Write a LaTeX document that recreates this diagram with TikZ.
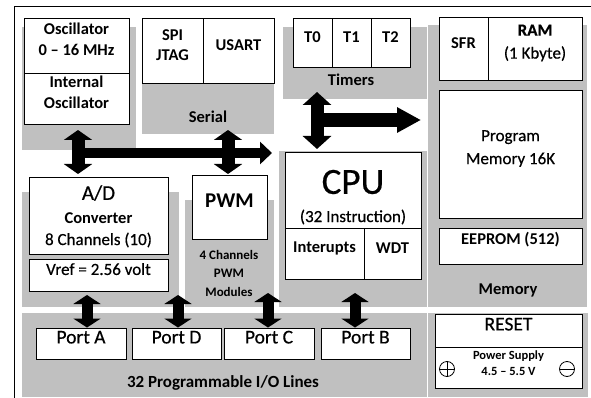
\documentclass[tikz,border=0pt]{standalone}
\usepackage{fontspec}
\setmainfont{Carlito}
\newfontfamily\medfam{Carlito}[FakeBold=0.5]
\usetikzlibrary{arrows.meta,fit}
\definecolor{grp}{RGB}{192,192,192}
\newcommand\labfont{\fontsize{16.5}{21}\selectfont\bfseries}
\newcommand\regfont{\fontsize{17}{22}\selectfont\medfam}
\newcommand\smlfont{\fontsize{12.5}{16}\selectfont\bfseries}
\begin{document}
\begin{tikzpicture}[x=1pt,y=-1pt,
  grpbox/.style={fill=grp,draw=none,inner sep=0pt},
  box/.style={draw=black,fill=white,line width=0.9pt,inner sep=0pt,align=center,font=\labfont},
  txt/.style={inner sep=0pt,align=center,font=\labfont},
  dblarr/.style={line width=13pt,{Triangle[width=28pt,length=10pt]}-{Triangle[width=28pt,length=10pt]}},
  iodbl/.style={line width=11pt,{Triangle[width=27pt,length=9pt]}-{Triangle[width=27pt,length=9pt]}},
  portbox/.style={box,font=\fontsize{19.5}{22}\selectfont\medfam},
]
\useasboundingbox (0,0) rectangle (591,398);
\fill[white] (0,0) rectangle (591,398);
% outer frame
\draw[line width=1pt] (14,398) -- (14,7) -- (591,7);

% gray groups
\node[grpbox,fit={(22,27)(136,150)}] (gosc) {};
\node[grpbox,fit={(142,83)(274,134)}] (gser) {};
\node[grpbox,fit={(283,27)(427,99)}] (gtim) {};
\node[grpbox,fit={(428,25)(587,307)}] (gmem) {};
\node[grpbox,fit={(279,151)(427,307)}] (gcpu) {};
\node[grpbox,fit={(185,200)(274,307)}] (gpwm) {};
\node[grpbox,fit={(22,192)(179,307)}] (gad) {};
\node[grpbox,fit={(22,313)(427,397)}] (gio) {};
\node[grpbox,fit={(428,313)(588,397)}] (grst) {};

% oscillator
\node[box,fit={(24,18)(129,73)}] (osc) {Oscillator\\0 -- 16 MHz};
\node[box,fit={(24,73)(129,124)}] (iosc) {Internal\\Oscillator};
% serial
\node[box,fit={(142,18)(203,83)},font=\fontsize{16.5}{20}\selectfont\bfseries] (spi) {SPI\\JTAG};
\node[box,fit={(203,18)(274,83)}] (usart) {USART};
\node[txt] (serial) at (208,117) {Serial};
% timers
\node[box,fit={(293,18)(332,67)}] (t0) {T0};
\node[box,fit={(332,18)(371,67)}] (t1) {T1};
\node[box,fit={(371,18)(410,67)}] (t2) {T2};
\node[txt] (timers) at (351,80) {Timers};
% memory
\node[box,fit={(439,17)(488,80)}] (sfr) {SFR};
\node[box,fit={(488,17)(582,80)},font=\fontsize{17}{23}\selectfont\medfam] (ram) {{\bfseries RAM}\\(1 Kbyte)};
\node[box,fit={(439,90)(582,218)},font=\fontsize{17}{23}\selectfont\medfam] (pm) {Program\\Memory 16K};
\node[box,fit={(439,228)(582,264)}] (eeprom) {EEPROM (512)};
\node[txt] (memory) at (508,290) {Memory};
% CPU
\node[box,fit={(285,152)(421,228)}] (cpu) {};
\node[txt,font=\fontsize{37}{40}\selectfont\medfam] (cpul) at (353,182) {CPU};
\node[txt,font=\regfont] (instr) at (353,217) {(32 Instruction)};
\node[box,fit={(285,228)(364,279)}] (int) {Interupts};
\node[box,fit={(364,228)(421,279)}] (wdt) {WDT};
% PWM
\node[box,fit={(192,175)(267,239)},font=\fontsize{21}{24}\selectfont\bfseries] (pwm) {PWM};
\node[txt,font=\fontsize{13}{18.5}\selectfont\bfseries] (pwml) at (229,273) {4 Channels\\PWM\\Modules};
% A/D
\node[box,fit={(29,177)(168,254)}] (ad) {};
\node[txt,font=\fontsize{21}{24}\selectfont\medfam] (adl) at (98.5,193) {A/D};
\node[txt] (conv) at (98.5,218) {Converter};
\node[txt,font=\regfont] (chan) at (98.5,240) {8 Channels (10)};
\node[box,fit={(29,259)(168,291)},font=\fontsize{17}{20}\selectfont\medfam] (vref) {Vref = 2.56 volt};
% IO ports
\node[portbox,fit={(36,328)(126,359)}] (pa) {Port A};
\node[portbox,fit={(132,328)(221,359)}] (pd) {Port D};
\node[portbox,fit={(224,328)(314,359)}] (pc) {Port C};
\node[portbox,fit={(321,328)(410,359)}] (pb) {Port B};
\node[txt,font=\fontsize{17}{20}\selectfont\bfseries] (iol) at (223,383) {32 Programmable I/O Lines};
% reset / power
\node[portbox,fit={(435,314)(582,347)}] (reset) {RESET};
\node[box,fit={(435,347)(582,388)},font=\smlfont] (power) {Power Supply\\4.5 -- 5.5 V};
\draw[line width=0.8pt] (447,369) circle[radius=7.5pt];
\draw[line width=0.8pt] (439.5,369) -- (454.5,369) (447,361.5) -- (447,376.5);
\draw[line width=0.8pt] (567,369) circle[radius=7.5pt];
\draw[line width=0.8pt] (559.5,369) -- (574.5,369);

% bus arrows
\coordinate (a1t) at (78,130);
\coordinate (a1b) at (78,174);
\coordinate (a2t) at (228,130);
\coordinate (a2b) at (228,174);
\coordinate (h1s) at (78,153);
\coordinate (h1e) at (272,153);
\draw[line width=10.5pt,-{Triangle[width=22pt,length=12pt]}] (h1s) -- (h1e);
\draw[dblarr] (a1t) -- (a1b);
\draw[dblarr] (a2t) -- (a2b);

\coordinate (a3t) at (317,92);
\coordinate (a3b) at (317,149);
\coordinate (h2s) at (317,120);
\coordinate (h2e) at (421,120);
\draw[line width=14pt,-{Triangle[width=24pt,length=24pt]}] (h2s) -- (h2e);
\draw[line width=13pt,{Triangle[width=28pt,length=13pt]}-{Triangle[width=28pt,length=13pt]}] (a3t) -- (a3b);

% port arrows
\coordinate (p1t) at (87,295);
\coordinate (p2t) at (178,295);
\coordinate (p3t) at (268,293);
\coordinate (p4t) at (355,293);
\draw[iodbl] (p1t) -- (p1t |- pa.north);
\draw[iodbl] (p2t) -- (p2t |- pd.north);
\draw[iodbl] (p3t) -- (p3t |- pc.north);
\draw[iodbl] (p4t) -- (p4t |- pb.north);
\end{tikzpicture}
\end{document}
